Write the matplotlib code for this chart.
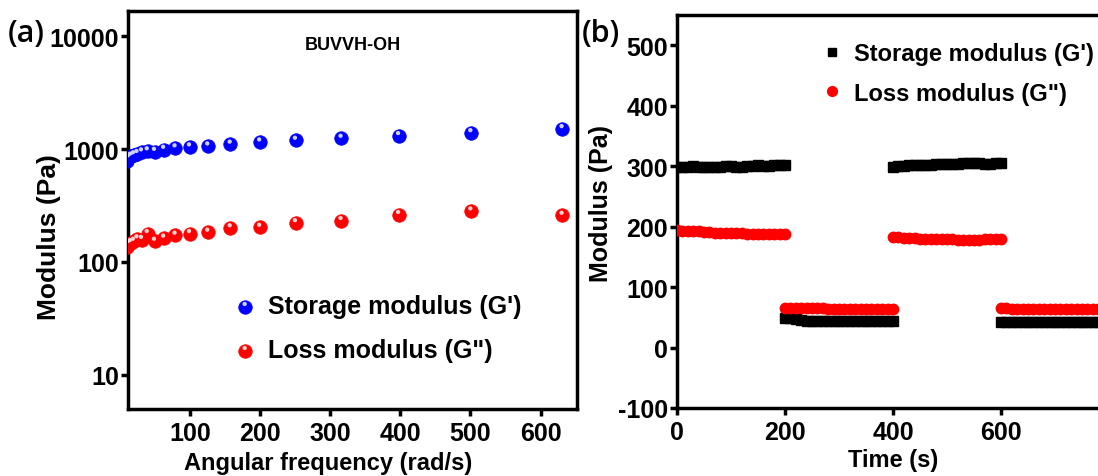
import numpy as np
import matplotlib.pyplot as plt
from matplotlib.path import Path
from matplotlib.legend_handler import HandlerTuple
from matplotlib.ticker import FixedLocator, FixedFormatter

plt.rcParams['font.family'] = ['Liberation Sans', 'DejaVu Sans']
plt.rcParams['font.weight'] = 'bold'
plt.rcParams['axes.unicode_minus'] = False

# (a) frequency sweep
freq = [10, 12.6, 15.8, 20, 25.1, 31.6, 39.8, 50.1, 63.1, 79.4, 100, 126, 158,
        200, 251, 316, 398, 501, 631]
g_store = [790, 830, 860, 885, 910, 940, 960, 950, 990, 1020, 1040, 1060, 1100,
           1150, 1190, 1240, 1310, 1390, 1510]
g_loss = [135, 145, 148, 152, 160, 158, 178, 152, 162, 172, 178, 183, 200,
          202, 222, 232, 262, 282, 258]

# (b) step strain, sampled every 10 s
t1 = np.arange(0, 201, 10)
t2 = np.arange(200, 401, 10)
t3 = np.arange(400, 601, 10)
t4 = np.arange(600, 801, 10)
gs1 = [298, 299, 299, 300, 299, 298, 298, 299, 299, 300, 300, 299, 299, 300, 300, 301, 300, 300, 301, 301, 301]
gs2 = [48, 48, 47, 45, 44, 44, 44, 44, 44, 44, 44, 44, 44, 44, 44, 44, 44, 44, 44, 44, 44]
gs3 = [299, 300, 300, 301, 301, 302, 302, 302, 303, 303, 303, 304, 304, 305, 305, 305, 305, 304, 304, 305, 305]
gs4 = [43, 43, 43, 42, 42, 42, 42, 42, 42, 42, 42, 42, 42, 42, 42, 42, 42, 42, 42, 42, 42]
gl1 = [194, 193, 193, 192, 192, 191, 191, 190, 190, 190, 189, 189, 189, 188, 188, 188, 188, 187, 187, 187, 187]
gl2 = [66, 66, 65, 65, 65, 65, 65, 65, 64, 64, 64, 64, 64, 64, 64, 64, 64, 64, 64, 64, 64]
gl3 = [182, 182, 181, 181, 181, 180, 180, 180, 180, 179, 179, 179, 178, 178, 178, 178, 178, 179, 179, 179, 179]
gl4 = [65, 65, 64, 64, 64, 64, 63, 63, 63, 63, 63, 63, 63, 63, 63, 63, 63, 63, 63, 63, 63]

fig = plt.figure(figsize=(10.98, 4.77), dpi=100)
ax1 = fig.add_axes([0.1166, 0.1405, 0.409, 0.834])
ax2 = fig.add_axes([0.6166, 0.1426, 0.3934, 0.824])

# small glossy spot in the upper part of each ball (extra point keeps the scale)
spot = Path.circle(center=(-0.06, 0.2), radius=0.16)
spot = Path(np.vstack([spot.vertices, [[0.5, 0.5]]]),
            np.concatenate([spot.codes, [Path.MOVETO]]))

def ball(ax, x, y, col, light):
    a = ax.scatter(x, y, s=95, c=col, edgecolors=col, linewidths=0.5, zorder=3)
    b = ax.scatter(x, y, s=95, c=light, marker=spot, edgecolors='none', zorder=4)
    return a, b

sb = ball(ax1, freq, g_store, '#0000ff', '#d0d0ff')
lb = ball(ax1, freq, g_loss, '#ff0000', '#ffd0d0')

ax1.set_yscale('log')
ax1.set_xlim(12, 652)
ax1.set_ylim(5, 16600)
ax1.set_xticks([100, 200, 300, 400, 500, 600])
ax1.yaxis.set_major_locator(FixedLocator([10, 100, 1000, 10000]))
ax1.yaxis.set_major_formatter(FixedFormatter(['10', '100', '1000', '10000']))
ax1.yaxis.set_minor_locator(FixedLocator([]))
ax1.set_xlabel('Angular frequency (rad/s)', fontsize=17, fontweight='bold')
ax1.set_ylabel('Modulus (Pa)', fontsize=19, fontweight='bold')
ax1.xaxis.set_label_coords(0.445, -0.105)
ax1.yaxis.set_label_coords(-0.15, 0.435)
ax1.text(0.5, 0.917, 'BUVVH-OH', transform=ax1.transAxes, ha='center', va='center',
         fontsize=13, fontweight='bold')
ax1.legend([sb, lb], ["Storage modulus (G')", 'Loss modulus (G")'],
           handler_map={tuple: HandlerTuple(ndivide=1)},
           loc='upper left', bbox_to_anchor=(0.178, 0.345), frameon=False,
           fontsize=18, labelspacing=0.8, handletextpad=0.3, handlelength=1.2)

# (b)
for t, v in [(t1, gs1), (t2, gs2), (t3, gs3), (t4, gs4)]:
    ax2.plot(t, v, ls='none', marker='s', ms=6.5, color='black', mec='black', zorder=3)
for t, v in [(t1, gl1), (t2, gl2), (t3, gl3), (t4, gl4)]:
    ax2.plot(t, v, ls='none', marker='o', ms=7.5, color='red', mec='red', zorder=3)
ax2.set_xlim(0, 800)
ax2.set_ylim(-100, 550)
ax2.set_xticks([0, 200, 400, 600])
ax2.set_yticks([-100, 0, 100, 200, 300, 400, 500])
ax2.set_xlabel('Time (s)', fontsize=17, fontweight='bold')
ax2.set_ylabel('Modulus (Pa)', fontsize=18, fontweight='bold')
ax2.xaxis.set_label_coords(0.5, -0.102)
ax2.yaxis.set_label_coords(-0.148, 0.522)
hs = plt.Line2D([], [], ls='none', marker='s', ms=6, color='black')
hl = plt.Line2D([], [], ls='none', marker='o', ms=7, color='red')
ax2.legend([hs, hl], ["Storage modulus (G')", 'Loss modulus (G")'],
           loc='upper left', bbox_to_anchor=(0.283, 0.985), frameon=False,
           fontsize=17, labelspacing=0.7, handletextpad=0.4, handlelength=1.0)

for ax in (ax1, ax2):
    for sp in ax.spines.values():
        sp.set_linewidth(2.5)
    ax.tick_params(direction='out', length=5, width=2.5, labelsize=18)
    ax.tick_params(axis='y', pad=1.5)
    for lab in ax.get_xticklabels() + ax.get_yticklabels():
        lab.set_fontweight('bold')

fig.text(0.007, 0.912, '(a)', fontsize=22, fontweight='semibold', family=['Open Sans', 'DejaVu Sans'])
fig.text(0.530, 0.912, '(b)', fontsize=22, fontweight='semibold', family=['Open Sans', 'DejaVu Sans'])

plt.savefig('out.png', dpi=100)
